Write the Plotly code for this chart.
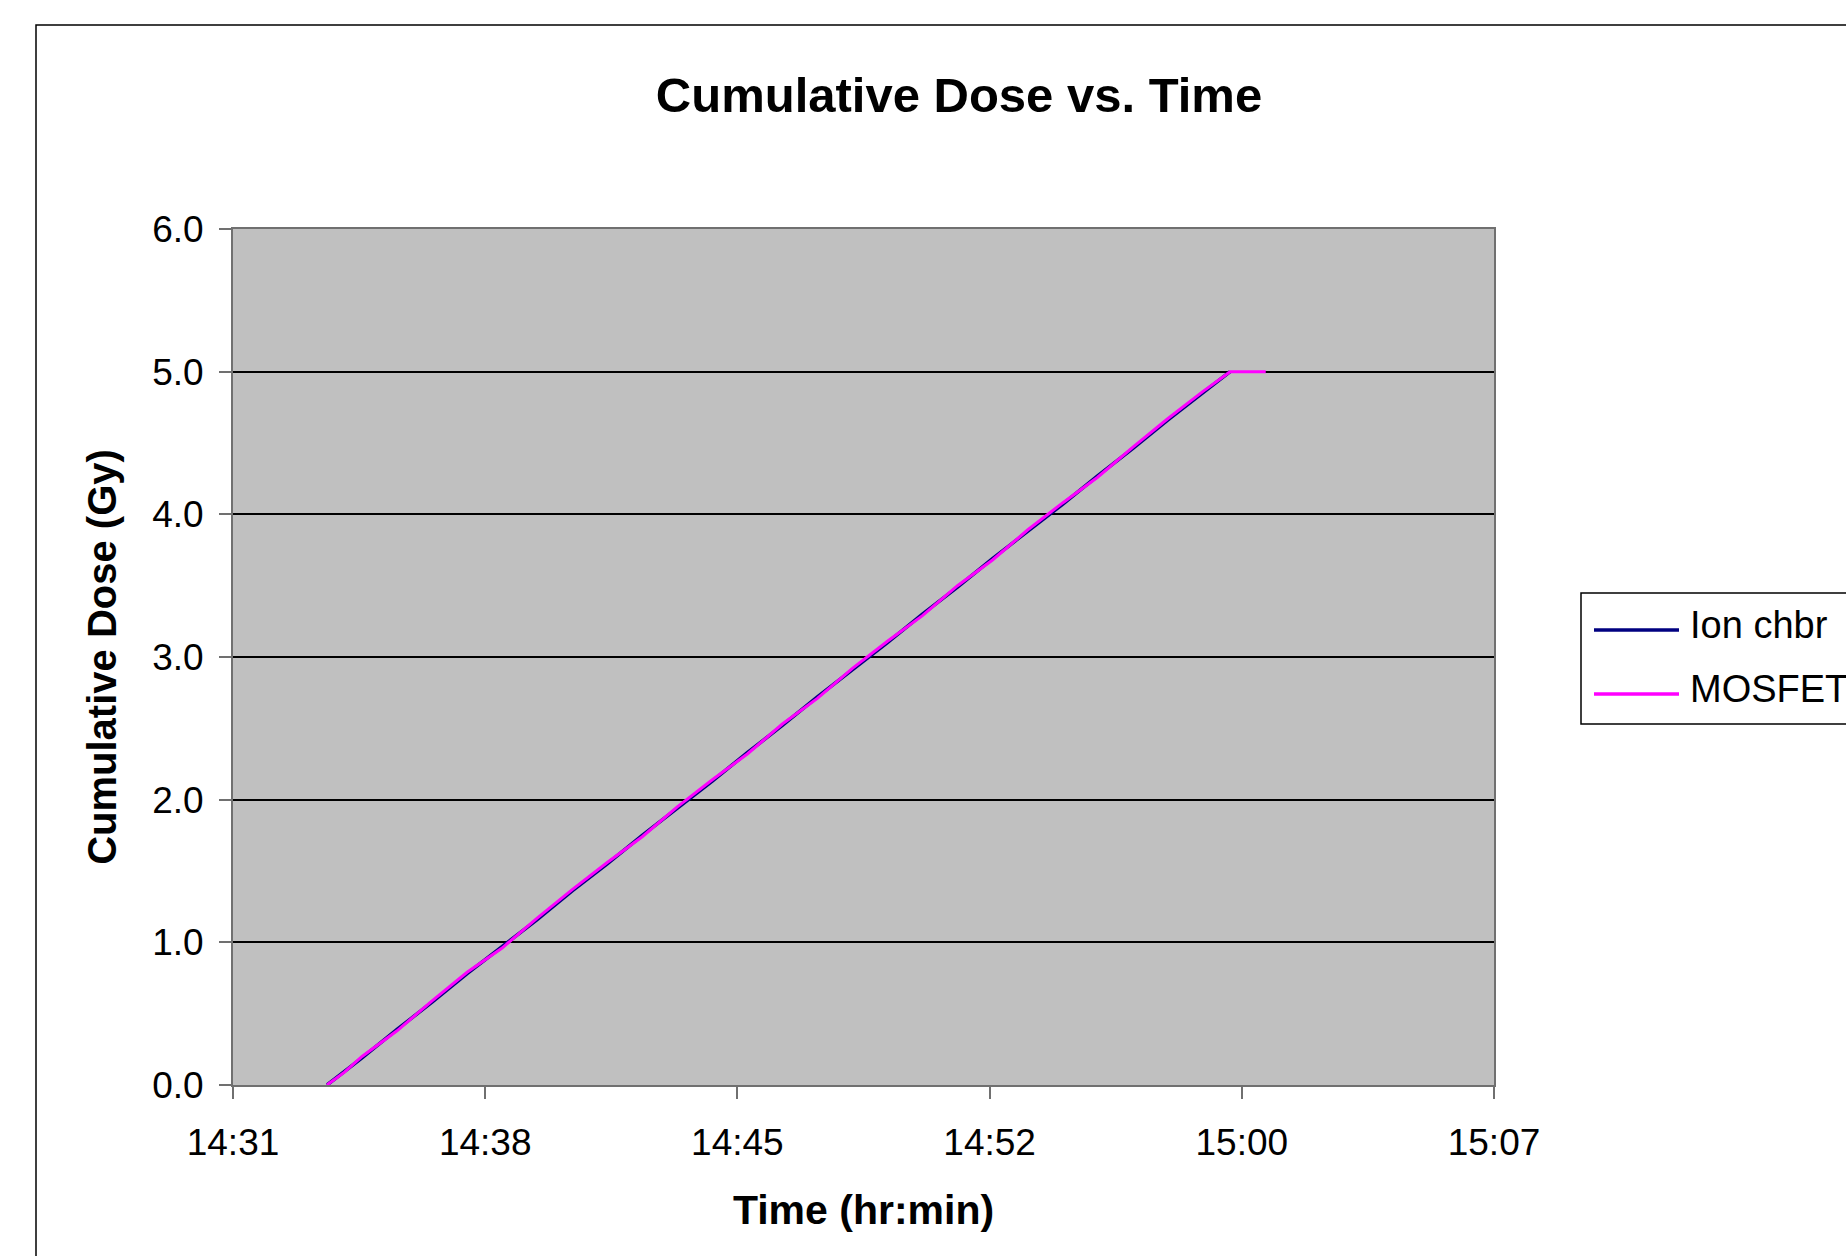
import plotly.graph_objects as go

# ---------------- data ----------------
ion_times = [
    "14:33:53", "14:34:53", "14:35:53", "14:36:53", "14:37:53", "14:38:53",
    "14:39:53", "14:40:53", "14:41:53", "14:42:53", "14:43:53", "14:44:53",
    "14:45:53", "14:46:53", "14:47:53", "14:48:53", "14:49:53", "14:50:53",
    "14:51:53", "14:52:53", "14:53:53", "14:54:53", "14:55:53", "14:56:53",
    "14:57:53", "14:58:53", "14:59:40",
]
ion_dose = [
    0.00, 0.19, 0.39, 0.58, 0.78, 0.97, 1.16, 1.36, 1.55, 1.75, 1.94, 2.13,
    2.33, 2.52, 2.72, 2.91, 3.10, 3.30, 3.49, 3.69, 3.88, 4.07, 4.27, 4.46,
    4.66, 4.85, 5.00,
]

mos_times = [
    "14:33:53", "14:34:23", "14:34:53", "14:35:53", "14:36:53", "14:37:53",
    "14:38:53", "14:39:53", "14:40:53", "14:41:53", "14:42:53", "14:43:53",
    "14:44:53", "14:45:53", "14:46:53", "14:47:53", "14:48:53", "14:49:53",
    "14:50:53", "14:51:53", "14:52:53", "14:53:53", "14:54:53", "14:55:53",
    "14:56:53", "14:57:53", "14:58:53", "14:59:40", "15:00:41",
]
mos_dose = [
    0.00, 0.09, 0.20, 0.38, 0.59, 0.79, 0.96, 1.17, 1.37, 1.56, 1.74, 1.95,
    2.14, 2.32, 2.53, 2.71, 2.92, 3.11, 3.29, 3.50, 3.68, 3.89, 4.08, 4.26,
    4.47, 4.67, 4.86, 5.00, 5.00,
]

series_names = ["Ion chbr", "MOSFET"]
series_colors = ["#000080", "#FF00FF"]

y_ticks = [0.0, 1.0, 2.0, 3.0, 4.0, 5.0, 6.0]
x_start = "2000-01-01 14:31:12"
x_end = "2000-01-01 15:07:12"
x_step_ms = 432000  # 7.2 minutes (0.005 day)

DAY = "2000-01-01 "

# ---------------- figure ----------------
W, H = 1846, 1256
L, R, T, B = 233, 352, 229, 171
PW, PH = W - L - R, H - T - B


def px(xp):
    return (xp - L) / PW


def py(yp):
    return (H - B - yp) / PH


FONT = "Liberation Sans, Arial, sans-serif"

fig = go.Figure()
fig.add_trace(go.Scatter(
    x=[DAY + t for t in ion_times], y=ion_dose, mode="lines",
    name=series_names[0], line=dict(color=series_colors[0], width=3.5),
    showlegend=False,
))
fig.add_trace(go.Scatter(
    x=[DAY + t for t in mos_times], y=mos_dose, mode="lines",
    name=series_names[1], line=dict(color=series_colors[1], width=3),
    showlegend=False,
))

shapes = [
    # outer chart border
    dict(type="rect", xref="paper", yref="paper",
         x0=px(36), x1=px(1900), y0=py(1300), y1=py(25),
         line=dict(color="#000000", width=1.5), layer="below"),
    # legend box
    dict(type="rect", xref="paper", yref="paper",
         x0=px(1581), x1=px(1900), y0=py(724), y1=py(593),
         line=dict(color="#000000", width=1.5), fillcolor="white"),
]
annotations = []
legend_rows = [630, 694]
text_rows = [625, 689]
for name, col, yl, yt in zip(series_names, series_colors, legend_rows, text_rows):
    shapes.append(dict(type="line", xref="paper", yref="paper",
                       x0=px(1594), x1=px(1679), y0=py(yl), y1=py(yl),
                       line=dict(color=col, width=3.5)))
    annotations.append(dict(xref="paper", yref="paper", x=px(1688), y=py(yt),
                            xanchor="left", yanchor="middle", showarrow=False,
                            text=name, font=dict(family=FONT, size=38, color="black")))

fig.update_layout(
    width=W, height=H,
    margin=dict(l=L, r=R, t=T, b=B, autoexpand=False),
    paper_bgcolor="white",
    plot_bgcolor="#C0C0C0",
    showlegend=False,
    font=dict(family=FONT, color="black"),
    title=dict(text="<b>Cumulative Dose vs. Time</b>", xref="container", yref="container",
               x=959 / W, y=1 - 95 / H, xanchor="center", yanchor="middle",
               font=dict(size=49, family=FONT, color="black")),
    shapes=shapes,
    annotations=annotations,
)

fig.update_xaxes(
    type="date", range=[x_start, x_end],
    tick0=x_start, dtick=x_step_ms, tickformat="%H:%M",
    showgrid=False, zeroline=False,
    showline=True, linecolor="#707070", linewidth=2, mirror=True,
    ticks="outside", ticklen=12, tickwidth=1.5, tickcolor="#707070",
    tickfont=dict(size=37, family=FONT, color="black"),
    ticklabelstandoff=12,
    title=dict(text="<b>Time (hr:min)</b>", font=dict(size=41, family=FONT, color="black"),
               standoff=33),
)
fig.update_yaxes(
    range=[0, 6], tickvals=y_ticks, tickformat=".1f",
    showgrid=True, gridcolor="black", gridwidth=1.5, zeroline=False,
    showline=True, linecolor="#707070", linewidth=2, mirror=True,
    ticks="outside", ticklen=12, tickwidth=1.5, tickcolor="#707070",
    tickfont=dict(size=37, family=FONT, color="black"),
    ticklabelstandoff=8,
    title=dict(text="<b>Cumulative Dose (Gy)</b>", font=dict(size=40, family=FONT, color="black"),
               standoff=23),
)

fig.write_html("out.html")
